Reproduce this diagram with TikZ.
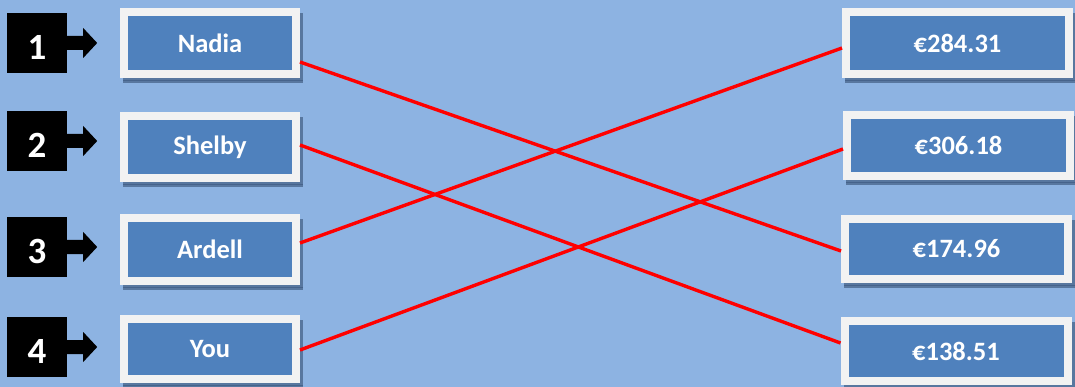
\documentclass[tikz,border=0pt]{standalone}
\usepackage{fontspec}
\setmainfont{Carlito}
\usetikzlibrary{backgrounds}
\definecolor{bgc}{HTML}{8DB3E2}
\definecolor{boxc}{HTML}{4F81BD}
\definecolor{framec}{HTML}{F2F2F2}
\definecolor{shadowc}{HTML}{58779F}
\definecolor{hatchc}{HTML}{46638B}
\definecolor{redc}{HTML}{FF0000}
\tikzset{
  namebox/.style={fill=boxc, draw=framec, line width=8pt, minimum width=172pt, minimum height=62pt, inner sep=0pt,
    text=white, font=\bfseries\fontsize{26.5}{30}\selectfont},
  pricebox/.style={namebox, minimum width=223pt},
  numsq/.style={fill=black, minimum size=60pt, inner sep=0pt},
  numtxt/.style={text=white, font=\bfseries\fontsize{37}{40}\selectfont, inner sep=0pt},
  link/.style={draw=redc, line width=3.4pt},
  shadowbox/.style={fill=shadowc}
}
\begin{document}
\begin{tikzpicture}[x=1pt,y=-1pt]
\useasboundingbox (0,0) rectangle (1075,387);
% left name boxes
\node[namebox] (nadia)  at (210,43)    {Nadia};
\node[namebox] (shelby) at (210,147)   {Shelby};
\node[namebox] (ardell) at (210,249.5) {Ardell};
\node[namebox, minimum height=60pt] (you) at (210,349) {You};
% right price boxes
\node[pricebox] (p1) at (957.5,43)    {€284.31};
\node[pricebox, minimum height=61pt] (p2) at (958.5,145.5) {€306.18};
\node[pricebox, minimum height=60pt] (p3) at (956.5,249)   {€174.96};
\node[pricebox, minimum height=60pt] (p4) at (956,351)     {€138.51};
% number squares
\foreach \i/\y in {1/43,2/141,3/247,4/347}{
  \node[numsq] (sq\i) at (37,\y) {};
  \node[numtxt] (n\i) at ([yshift=-4.5pt]sq\i.center) {\i};
  \fill[black] (sq\i.east) ++(0,-7) -- ++(16,0) -- ++(0,-8) -- ++(14,15) -- ++(-14,15) -- ++(0,-8) -- ++(-16,0) -- cycle;
}
\begin{scope}[on background layer]
  \fill[bgc] (0,0) rectangle (1075,387);
  \foreach \b in {nadia,shelby,ardell,you,p1,p2,p3,p4}{
    \fill[shadowc] ([shift={(3pt,-5pt)}]\b.north west) rectangle ([shift={(3pt,-5pt)}]\b.south east);
    \draw[hatchc, line width=0.4pt] ([shift={(3pt,-2.5pt)}]\b.south west) -- ([shift={(3pt,-2.5pt)}]\b.south east);
  }
\end{scope}
% connectors
\draw[link] ([yshift=-19pt]nadia.east)  -- ([yshift=-2pt]p3.west);
\draw[link] ([yshift=2pt]shelby.east)   -- ([yshift=8pt]p4.west);
\draw[link] ([yshift=6.5pt]ardell.east) -- ([yshift=-5pt]p1.west);
\draw[link] ([yshift=-1pt]you.east)     -- ([yshift=-3.5pt]p2.west);
\end{tikzpicture}
\end{document}
